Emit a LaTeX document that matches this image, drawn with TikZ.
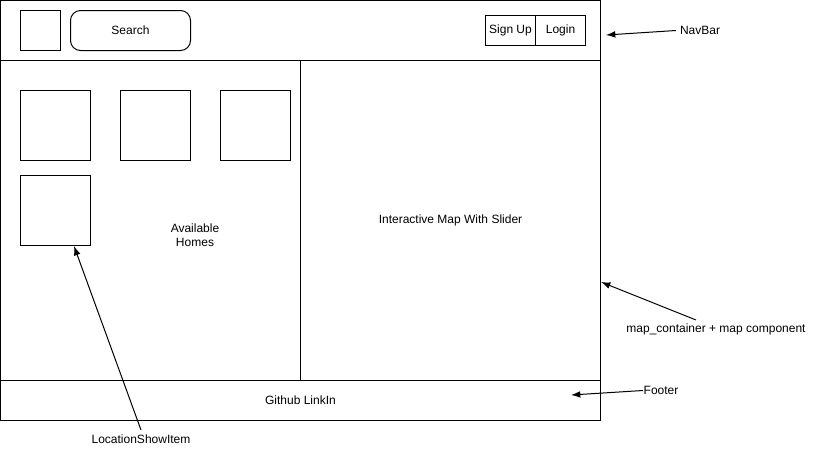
\documentclass[tikz,border=0pt]{standalone}
\usepackage{fontspec}
\setmainfont{Liberation Sans}
\usetikzlibrary{arrows.meta}
\begin{document}
\begin{tikzpicture}[x=0.75pt,y=-0.75pt,
  box/.style={draw=black,line width=0.75pt,inner sep=0pt,outer sep=0pt},
  lbl/.style={font=\fontsize{9}{10.5}\selectfont,inner sep=0pt,align=center},
  ptr/.style={draw=black,line width=0.75pt,-{Latex[length=7pt,width=5pt]}}]
\useasboundingbox (0,0) rectangle (816,451);
% frames
\node[box,minimum width=600*0.75pt,minimum height=60*0.75pt,anchor=north west] (nav) at (0.5,0.5) {};
\node[box,minimum width=300*0.75pt,minimum height=320*0.75pt,anchor=north west] (left) at (0.5,60.5) {};
\node[box,minimum width=300*0.75pt,minimum height=320*0.75pt,anchor=north west,lbl] (right) at (300.5,60.5) {Interactive Map With Slider};
\node[box,minimum width=600*0.75pt,minimum height=40*0.75pt,anchor=north west,lbl] (foot) at (0.5,380.5) {Github LinkIn};
% navbar items
\node[box,minimum width=40*0.75pt,minimum height=40*0.75pt,anchor=north west] (logo) at (20.5,10.5) {};
\node[box,rounded corners=7.5pt,minimum width=120*0.75pt,minimum height=40*0.75pt,anchor=north west,lbl] (search) at (70.5,10.5) {Search};
\node[box,minimum width=50*0.75pt,minimum height=30*0.75pt,anchor=north west,lbl] (signup) at (485.5,15.5) {Sign Up};
\node[box,minimum width=50*0.75pt,minimum height=30*0.75pt,anchor=north west,lbl] (login) at (535.5,15.5) {Login};
% homes
\node[box,minimum width=70*0.75pt,minimum height=70*0.75pt,anchor=north west] (h1) at (20.5,90.5) {};
\node[box,minimum width=70*0.75pt,minimum height=70*0.75pt,anchor=north west] (h2) at (120.5,90.5) {};
\node[box,minimum width=70*0.75pt,minimum height=70*0.75pt,anchor=north west] (h3) at (220.5,90.5) {};
\node[box,minimum width=70*0.75pt,minimum height=70*0.75pt,anchor=north west] (h4) at (20.5,175.5) {};
\node[lbl] (avail) at (195,235.5) {Available\\Homes};
% labels
\node[lbl] (navl) at (700,30.5) {NavBar};
\node[lbl] (mapl) at (716,329.5) {map\_container + map component};
\node[lbl] (footl) at (661,390.5) {Footer};
\node[lbl] (locl) at (141,439.5) {LocationShowItem};
% arrow ends
\coordinate (navt) at (676,30.5);
\coordinate (navh) at (606,35);
\coordinate (mapt) at (696,320);
\coordinate (maph) at (601,282);
\coordinate (foott) at (643,390.5);
\coordinate (footh) at (571,395);
\coordinate (loct) at (141,430);
\coordinate (loch) at (74,246);
\draw[ptr] (navt) -- (navh);
\draw[ptr] (mapt) -- (maph);
\draw[ptr] (foott) -- (footh);
\draw[ptr] (loct) -- (loch);
\end{tikzpicture}
\end{document}
